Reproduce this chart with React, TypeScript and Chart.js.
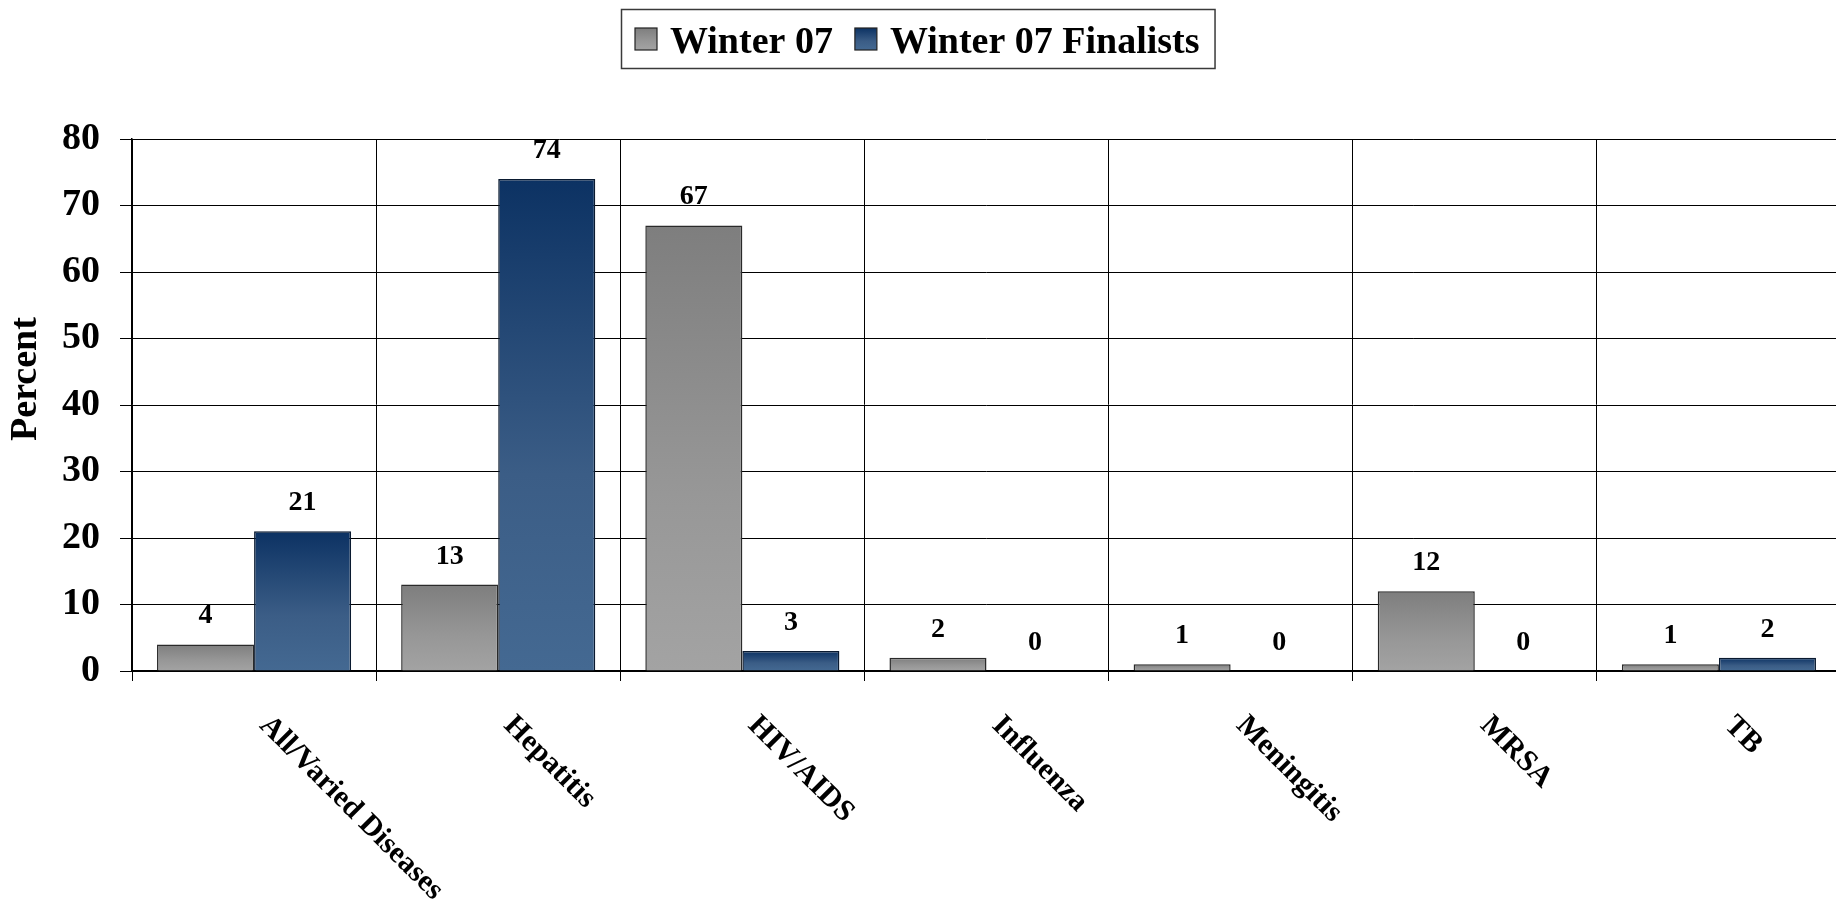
import React, { useEffect, useRef } from 'react';
import { Chart, registerables } from 'chart.js';

Chart.register(...registerables);

// ---- data ----
const categories = ['All/Varied Diseases', 'Hepatitis', 'HIV/AIDS', 'Influenza', 'Meningitis', 'MRSA', 'TB'];
const winter07 = [4, 13, 67, 2, 1, 12, 1];
const winter07Finalists = [21, 74, 3, 0, 0, 0, 2];
const seriesNames = ['Winter 07', 'Winter 07 Finalists'];
const yMin = 0;
const yMax = 80;
const yStep = 10;
const yAxisTitle = 'Percent';

// ---- styles ----
const FONT = '"Liberation Serif", "Times New Roman", serif';
const grayStops: [number, string][] = [[0, '#7e7e7e'], [0.6, '#979797'], [1, '#a3a3a3']];
const blueStops: [number, string][] = [[0, '#0c3263'], [0.6, '#3b5d86'], [1, '#446992']];
const stopsList = [grayStops, blueStops];
const VIEW_W = 1836;
const CANVAS_W = 1841; // plot area runs slightly past the right edge of the view

function makeGradient(ctx: CanvasRenderingContext2D, top: number, bottom: number, stops: [number, string][]) {
  const g = ctx.createLinearGradient(0, top, 0, bottom);
  stops.forEach(([o, c]) => g.addColorStop(o, c));
  return g;
}

const barFill = (stops: [number, string][]) => (c: any) => {
  const chart = c.chart;
  const y = chart.scales && chart.scales.y;
  if (!y || c.type !== 'data') return stops[1][1];
  const v = Number(c.raw) || 0;
  const top = y.getPixelForValue(v);
  const base = y.getPixelForValue(0);
  if (!(base - top > 0.5)) return stops[1][1];
  return makeGradient(chart.ctx, top, base, stops);
};

const valueLabelPlugin = {
  id: 'valueLabels',
  afterDatasetsDraw(chart: any) {
    const ctx = chart.ctx;
    ctx.save();
    ctx.font = `bold 28px ${FONT}`;
    ctx.fillStyle = '#000';
    ctx.textAlign = 'center';
    ctx.textBaseline = 'alphabetic';
    chart.data.datasets.forEach((ds: any, di: number) => {
      const meta = chart.getDatasetMeta(di);
      meta.data.forEach((el: any, i: number) => {
        ctx.fillText(String(ds.data[i]), el.x, el.y - 21);
      });
    });
    ctx.restore();
  },
};

const xLabelPlugin = {
  id: 'xLabels',
  afterDraw(chart: any) {
    const ctx = chart.ctx;
    const xs = chart.scales.x;
    const bottom = chart.chartArea.bottom;
    ctx.save();
    ctx.font = `bold 30px ${FONT}`;
    ctx.fillStyle = '#000';
    ctx.textAlign = 'left';
    ctx.textBaseline = 'middle';
    categories.forEach((label, i) => {
      const x = xs.getPixelForValue(i);
      ctx.save();
      ctx.translate(x + 10, bottom + 50);
      ctx.rotate(Math.PI / 4);
      ctx.fillText(label, 0, 0);
      ctx.restore();
    });
    ctx.restore();
  },
};

const yTitlePlugin = {
  id: 'yTitle',
  afterDraw(chart: any) {
    const ctx = chart.ctx;
    const area = chart.chartArea;
    ctx.save();
    ctx.font = `bold 38px ${FONT}`;
    ctx.fillStyle = '#000';
    ctx.textAlign = 'center';
    ctx.textBaseline = 'middle';
    ctx.translate(26, (area.top + area.bottom) / 2 - 26);
    ctx.rotate(-Math.PI / 2);
    ctx.fillText(yAxisTitle, 0, 0);
    ctx.restore();
  },
};

const legendPlugin = {
  id: 'boxLegend',
  afterDraw(chart: any) {
    const ctx = chart.ctx;
    ctx.save();
    ctx.font = `bold 38px ${FONT}`;
    const box = 22;
    const gap = 13;
    const itemGap = 22;
    const padL = 14;
    const padR = 15;
    const widths = seriesNames.map((s) => ctx.measureText(s).width);
    const total = padL + widths.reduce((a, w) => a + box + gap + w, 0) + itemGap * (seriesNames.length - 1) + padR;
    const left = Math.round((Math.min(chart.width, VIEW_W) - total) / 2);
    const top = 9;
    const h = 59;
    ctx.strokeStyle = '#3a3a3a';
    ctx.lineWidth = 1.5;
    ctx.strokeRect(left + 0.5, top + 0.5, total, h);
    let x = left + padL;
    const boxTop = 28;
    seriesNames.forEach((s, i) => {
      ctx.fillStyle = makeGradient(ctx, boxTop, boxTop + box, stopsList[i]);
      ctx.fillRect(x, boxTop, box, box);
      ctx.strokeStyle = '#222';
      ctx.lineWidth = 1.2;
      ctx.strokeRect(x, boxTop, box, box);
      x += box + gap;
      ctx.fillStyle = '#000';
      ctx.textAlign = 'left';
      ctx.textBaseline = 'alphabetic';
      ctx.fillText(s, x, 53);
      x += widths[i] + itemGap;
    });
    ctx.restore();
  },
};

export default function App() {
  const canvasRef = useRef<HTMLCanvasElement | null>(null);

  useEffect(() => {
    document.body.style.margin = '0';
    document.body.style.overflow = 'hidden';
    document.documentElement.style.overflow = 'hidden';
    const canvas = canvasRef.current;
    if (!canvas) return;
    const chart = new Chart(canvas, {
      type: 'bar',
      data: {
        labels: categories,
        datasets: [
          {
            label: seriesNames[0],
            data: winter07,
            backgroundColor: barFill(grayStops),
            borderColor: '#2a2a2a',
            borderWidth: 1.5,
            categoryPercentage: 0.795,
            barPercentage: 1,
          },
          {
            label: seriesNames[1],
            data: winter07Finalists,
            backgroundColor: barFill(blueStops),
            borderColor: '#0a1a30',
            borderWidth: 1.5,
            categoryPercentage: 0.795,
            barPercentage: 1,
          },
        ],
      },
      options: {
        animation: false,
        responsive: true,
        maintainAspectRatio: false,
        devicePixelRatio: 1,
        layout: { padding: { top: 139, right: 0, left: 0, bottom: 0 } },
        plugins: {
          legend: { display: false },
          tooltip: { enabled: false },
          title: { display: false },
        },
        scales: {
          x: {
            type: 'category',
            offset: true,
            grid: { display: true, offset: true, color: '#000', lineWidth: 1, tickLength: 10, drawTicks: true },
            border: { display: true, color: '#000', width: 2 },
            ticks: { display: false },
            afterFit: (scale: any) => {
              scale.height = 230;
            },
          },
          y: {
            min: yMin,
            max: yMax,
            grid: { color: '#000', lineWidth: 1, tickLength: 12, drawTicks: true },
            border: { display: true, color: '#000', width: 1.5 },
            ticks: {
              stepSize: yStep,
              color: '#000',
              padding: 20,
              font: { family: FONT, size: 38, weight: 'bold' },
            },
            title: { display: false },
            afterFit: (scale: any) => {
              scale.width = 132;
            },
          },
        },
      },
      plugins: [valueLabelPlugin, xLabelPlugin, yTitlePlugin, legendPlugin],
    });
    return () => chart.destroy();
  }, []);

  return (
    <div style={{ position: 'absolute', left: 0, top: 0, width: VIEW_W, height: 901, overflow: 'hidden', background: '#fff' }}>
      <div style={{ position: 'absolute', left: 0, top: 0, width: CANVAS_W, height: 901 }}>
        <canvas ref={canvasRef} />
      </div>
    </div>
  );
}
